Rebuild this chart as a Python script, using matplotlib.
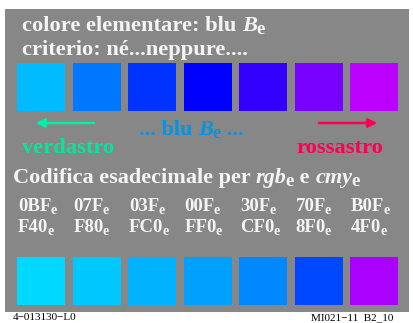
import matplotlib
matplotlib.use("Agg")
import matplotlib.pyplot as plt
from matplotlib.patches import Rectangle

plt.rcParams['font.family'] = ['Liberation Serif', 'DejaVu Serif']

# Data
top_colors = ["#00BBFF", "#0077FF", "#0033FF", "#0000FF", "#3300FF", "#7700FF", "#BB00FF"]
bottom_colors = ["#00D8FF", "#00C8FF", "#00B2FF", "#00A0FF", "#0088FF", "#0048FF", "#AA00FF"]
rgb_codes = ["0BF", "07F", "03F", "00F", "30F", "70F", "B0F"]
cmy_codes = ["F40", "F80", "FC0", "FF0", "CF0", "8F0", "4F0"]
left_label = "verdastro"
right_label = "rossastro"
foot_left = "4−013130−L0"
foot_right = "MI021−11  B2_10"

W, H = 413, 323
fig = plt.figure(figsize=(W / 100, H / 100), dpi=100)
ax = fig.add_axes([0, 0, 1, 1])
ax.set_xlim(0, W)
ax.set_ylim(H, 0)
ax.axis('off')
fig.patch.set_facecolor('white')
renderer = fig.canvas.get_renderer()


def seg_text(x, y, segments, fs, color, ha='left'):
    """segments: list of (string, style, size_factor, drop_px, kern_px)."""
    arts = []
    cx = x
    for s, style, fac, drop, kern in segments:
        cx += kern
        t = ax.text(cx, y + drop, s, fontsize=fs * fac, fontweight='bold', fontstyle=style,
                    color=color, va='baseline', ha='left')
        bb = t.get_window_extent(renderer=renderer)
        cx += bb.width
        arts.append(t)
    total = cx - x
    if ha != 'left':
        shift = total / 2 if ha == 'center' else total
        for t in arts:
            px, py = t.get_position()
            t.set_position((px - shift, py))
    return arts


ax.add_patch(Rectangle((5, 9), 404, 303, facecolor='#878787', edgecolor='none'))

x0, step, sw = 17, 55.5, 48
for i, c in enumerate(top_colors):
    ax.add_patch(Rectangle((x0 + i * step, 63), sw, 48, facecolor=c, edgecolor='none'))
for i, c in enumerate(bottom_colors):
    ax.add_patch(Rectangle((x0 + i * step, 257), sw, 48, facecolor=c, edgecolor='none'))

white = '#F4F4F4'
fs_big = 16.2
seg_text(22, 31, [("colore elementare: blu ", 'normal', 1, 0, 0), ("B", 'italic', 1, 0, 0),
                  ("e", 'normal', 0.85, 3, -0.5)], fs_big, white)
ax.text(22, 55, "criterio: né...neppure....", fontsize=fs_big, fontweight='bold',
        color=white, va='baseline')

# arrows
ax.annotate('', xy=(33, 123), xytext=(97, 123),
            arrowprops=dict(arrowstyle='-|>', color='#00F0A8', lw=1.8, mutation_scale=13))
ax.annotate('', xy=(380, 123), xytext=(316, 123),
            arrowprops=dict(arrowstyle='-|>', color='#FF0050', lw=1.8, mutation_scale=13))
seg_text(191, 135, [("... blu ", 'normal', 1, 0, 0), ("B", 'italic', 1, 0, 0),
                    ("e", 'normal', 0.85, 3, -0.5), (" ...", 'normal', 1, 0, 0)],
         16, '#0095E8', ha='center')
ax.text(22, 153, left_label, fontsize=16.2, fontweight='bold', color='#00E8A0', va='baseline')
ax.text(383, 153, right_label, fontsize=16.2, fontweight='bold', color='#FF0050',
        va='baseline', ha='right')

seg_text(13, 183, [("Codifica esadecimale per ", 'normal', 1, 0, 0), ("rgb", 'italic', 1, 0, 0),
                   ("e", 'normal', 0.85, 3, -1), (" e ", 'normal', 1, 0, 0),
                   ("cmy", 'italic', 1, 0, 0), ("e", 'normal', 0.85, 3, -1)], 16, white)

fs_code = 13.5
for i in range(7):
    x = x0 + 1 + i * step
    seg_text(x, 211, [(rgb_codes[i], 'normal', 1, 0, 0), ("e", 'normal', 0.75, 3, -1)],
             fs_code, white)
    seg_text(x, 232, [(cmy_codes[i], 'normal', 1, 0, 0), ("e", 'normal', 0.75, 3, -1)],
             fs_code, white)

ax.text(13, 320, foot_left, fontsize=8, color='black', va='baseline')
ax.text(393, 320, foot_right, fontsize=8, color='black', va='baseline', ha='right')

fig.savefig('out.png', dpi=100, facecolor='white')
